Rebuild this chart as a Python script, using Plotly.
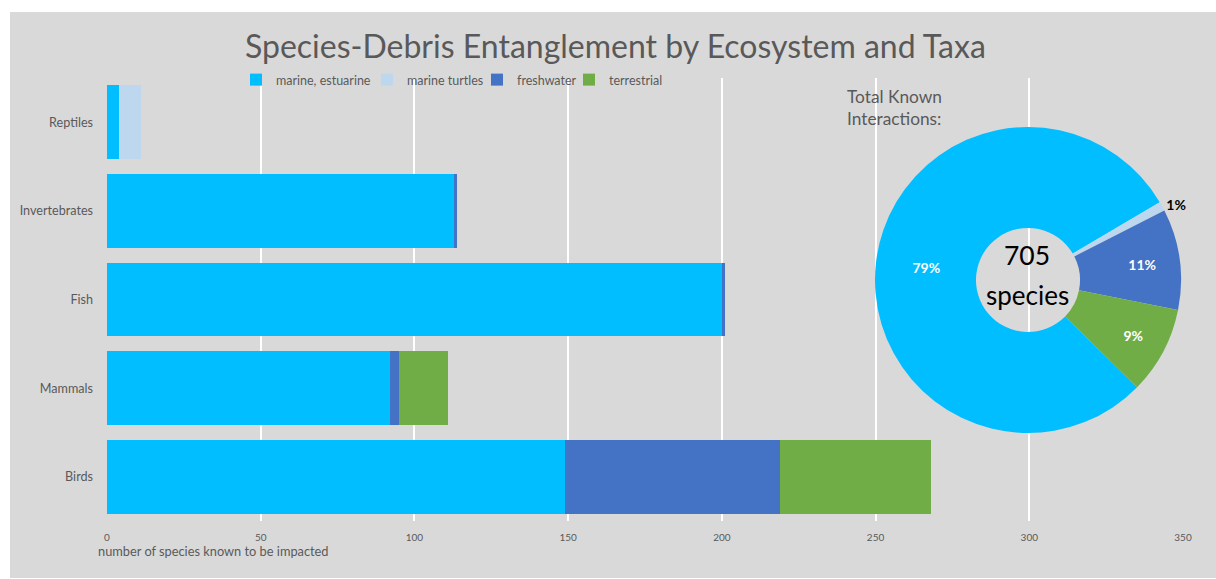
import plotly.graph_objects as go

W, H = 1216, 579

# Taxa on the category axis (bottom to top)
taxa = ["Birds", "Mammals", "Fish", "Invertebrates", "Reptiles"]

# Species known to be impacted, per ecosystem
marine_estuarine = [149, 92, 200, 113, 4]
marine_turtles = [0, 0, 0, 0, 7]
freshwater = [70, 3, 1, 1, 0]
terrestrial = [49, 16, 0, 0, 0]

series_names = ["marine, estuarine", "marine turtles", "freshwater", "terrestrial"]
series_values = [marine_estuarine, marine_turtles, freshwater, terrestrial]
colors = ["#00BEFF", "#BDD7EE", "#4472C4", "#70AD47"]

x_ticks = [0, 50, 100, 150, 200, 250, 300, 350]

FONT = "Lato"
GREY = "#595959"

# left edge (px) of each legend entry along the top row
legend_left_px = [236, 367, 477, 569]


def px_x(v):
    return v / W


def px_y(v):
    return 1 - v / H


fig = go.Figure()

legend_keys = ["legend"] + [f"legend{i}" for i in range(2, len(series_names) + 1)]

for name, vals, col, lkey in zip(series_names, series_values, colors, legend_keys):
    fig.add_trace(go.Bar(
        y=taxa, x=vals, name=name, orientation="h",
        marker=dict(color=col, line=dict(width=0)),
        hoverinfo="x+y+name", legend=lkey,
    ))

# Totals per ecosystem for the donut
totals = [sum(v) for v in series_values]
grand_total = sum(totals)

fig.add_trace(go.Pie(
    labels=series_names, values=totals, sort=False, direction="clockwise",
    rotation=134.5, hole=0.34,
    marker=dict(colors=colors, line=dict(width=0)),
    textinfo="percent", texttemplate="<b>%{percent:.0%}</b>",
    textposition=["inside", "outside", "inside", "inside"],
    insidetextorientation="horizontal",
    textfont=dict(family=FONT, size=14, color=["white", "black", "white", "white"]),
    showlegend=False, automargin=False,
    domain=dict(x=[px_x(873), px_x(1183)], y=[px_y(433), px_y(127)]),
))

legend_style = dict(
    orientation="h", y=px_y(65), xanchor="left", yanchor="top",
    font=dict(size=12.5, color=GREY), bgcolor="rgba(0,0,0,0)", itemwidth=30,
)
legends = {key: dict(legend_style, x=px_x(left))
           for key, left in zip(legend_keys, legend_left_px)}

fig.update_layout(
    width=W, height=H,
    margin=dict(l=0, r=0, t=0, b=0, pad=0, autoexpand=False),
    barmode="stack", bargap=0.167,
    paper_bgcolor="white", plot_bgcolor="rgba(0,0,0,0)",
    font=dict(family=FONT, color=GREY),
    xaxis=dict(
        domain=[px_x(107), px_x(1183)], range=[0, 350],
        tickvals=x_ticks, showgrid=True, gridcolor="white", gridwidth=1.5,
        zeroline=False, showline=False, tickfont=dict(size=10, color=GREY),
        ticklabelstandoff=9, automargin=False,
    ),
    yaxis=dict(
        domain=[px_y(521), px_y(78)], showgrid=False, zeroline=False,
        tickfont=dict(size=12.6, color=GREY), ticklabelstandoff=13,
        automargin=False,
    ),
    shapes=[dict(
        type="rect", xref="paper", yref="paper", layer="below",
        x0=px_x(10), x1=1, y0=px_y(578), y1=px_y(12),
        fillcolor="#D9D9D9", line=dict(width=0),
    )],
    annotations=[
        dict(text="Species-Debris Entanglement by Ecosystem and Taxa",
             xref="paper", yref="paper", x=px_x(615), y=px_y(45),
             xanchor="center", yanchor="middle", showarrow=False,
             font=dict(size=32, color=GREY)),
        dict(text="number of species known to be impacted",
             xref="paper", yref="paper", x=px_x(96), y=px_y(551),
             xanchor="left", yanchor="middle", showarrow=False,
             font=dict(size=12.8, color=GREY)),
        dict(text="Total Known<br>Interactions:",
             xref="paper", yref="paper", x=px_x(845), y=px_y(84),
             xanchor="left", yanchor="top", align="left", showarrow=False,
             font=dict(size=17.3, color=GREY)),
        dict(text=f"{grand_total}",
             xref="paper", yref="paper", x=px_x(1027), y=px_y(255),
             xanchor="center", yanchor="middle", showarrow=False,
             font=dict(size=26.5, color="black")),
        dict(text="species",
             xref="paper", yref="paper", x=px_x(1027), y=px_y(295),
             xanchor="center", yanchor="middle", showarrow=False,
             font=dict(size=26, color="black")),
    ],
    **legends,
)

fig.write_html("out.html")
